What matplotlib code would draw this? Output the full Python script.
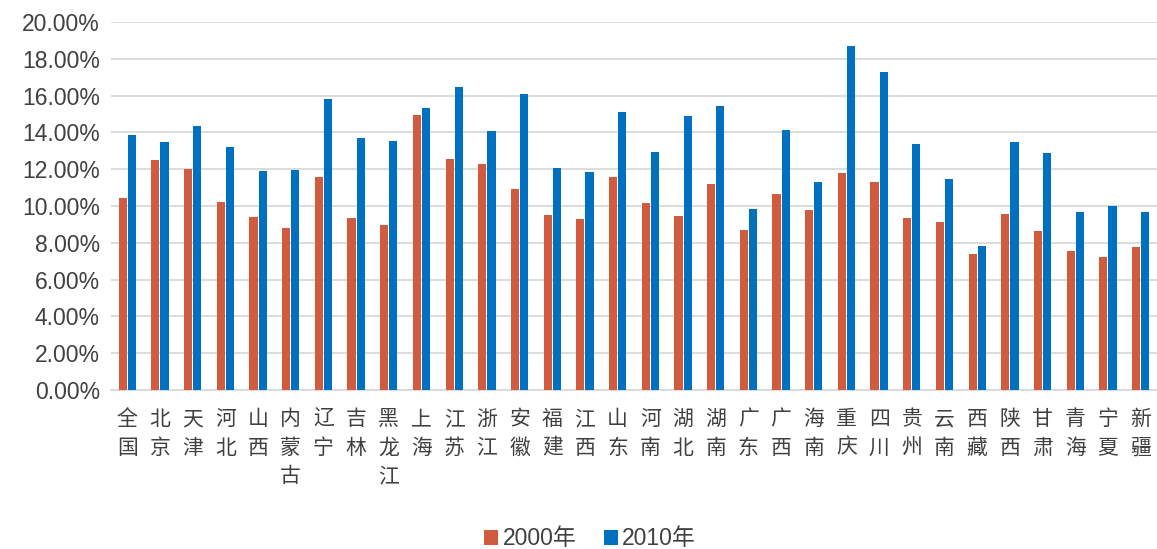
import matplotlib
matplotlib.use("Agg")
import matplotlib.pyplot as plt
import numpy as np
from matplotlib.ticker import FuncFormatter, MultipleLocator

regions = ["全国", "北京", "天津", "河北", "山西", "内蒙古", "辽宁", "吉林", "黑龙江", "上海",
           "江苏", "浙江", "安徽", "福建", "江西", "山东", "河南", "湖北", "湖南", "广东",
           "广西", "海南", "重庆", "四川", "贵州", "云南", "西藏", "陕西", "甘肃", "青海",
           "宁夏", "新疆"]
v2000 = [10.41, 12.49, 12.00, 10.21, 9.39, 8.80, 11.60, 9.34, 8.96, 14.93,
         12.58, 12.27, 10.95, 9.50, 9.29, 11.55, 10.14, 9.43, 11.17, 8.72,
         10.64, 9.79, 11.80, 11.33, 9.32, 9.12, 7.37, 9.56, 8.63, 7.58,
         7.22, 7.78]
v2010 = [13.85, 13.50, 14.37, 13.19, 11.91, 11.93, 15.80, 13.68, 13.54, 15.33,
         16.47, 14.05, 16.07, 12.09, 11.84, 15.09, 12.96, 14.91, 15.42, 9.86,
         14.15, 11.29, 18.71, 17.28, 13.39, 11.49, 7.80, 13.47, 12.89, 9.68,
         9.99, 9.65]
series_names = ["2000年", "2010年"]
colors = ["#D15B3F", "#0070C0"]

fig = plt.figure(figsize=(11.57, 5.49), dpi=100)
ax = fig.add_axes([0.0959, 0.2896, 0.9041, 0.6704])

x = np.arange(len(regions))
w = 0.25
ax.bar(x - 0.14, v2000, width=w, color=colors[0], label=series_names[0], zorder=3)
ax.bar(x + 0.14, v2010, width=w, color=colors[1], label=series_names[1], zorder=3)

ax.set_xlim(-0.5, len(regions) - 0.5)
ax.set_ylim(0, 20)
ax.yaxis.set_major_locator(MultipleLocator(2))
ax.yaxis.set_major_formatter(FuncFormatter(lambda v, p: f"{v:.2f}%"))
ax.grid(axis="y", color="#D9D9D9", linewidth=1.3, zorder=0)
for s in ["top", "right", "left"]:
    ax.spines[s].set_visible(False)
ax.spines["bottom"].set_color("#D9D9D9")
ax.spines["bottom"].set_linewidth(1.3)
ax.tick_params(axis="y", length=0, pad=8, labelsize=16.5, labelcolor="#404040")
for lab in ax.get_yticklabels():
    lab.set_family(["Liberation Sans", "Noto Sans CJK SC"])

ax.set_xticks(x)
ax.set_xticklabels(["\n".join(r) for r in regions], va="top", linespacing=1.38,
                   family=["Noto Sans CJK SC", "DejaVu Sans"], fontsize=15, color="#404040")
ax.tick_params(axis="x", length=0, pad=13)

leg = fig.legend(loc="lower center", bbox_to_anchor=(0.51, -0.04), ncol=2, frameon=False,
                 prop={"family": ["Liberation Sans", "Noto Sans CJK SC"], "size": 16.5},
                 handlelength=0.6, handleheight=0.6, handletextpad=0.2, columnspacing=1.2)
for t in leg.get_texts():
    t.set_color("#404040")

fig.savefig("out.png", dpi=100)
